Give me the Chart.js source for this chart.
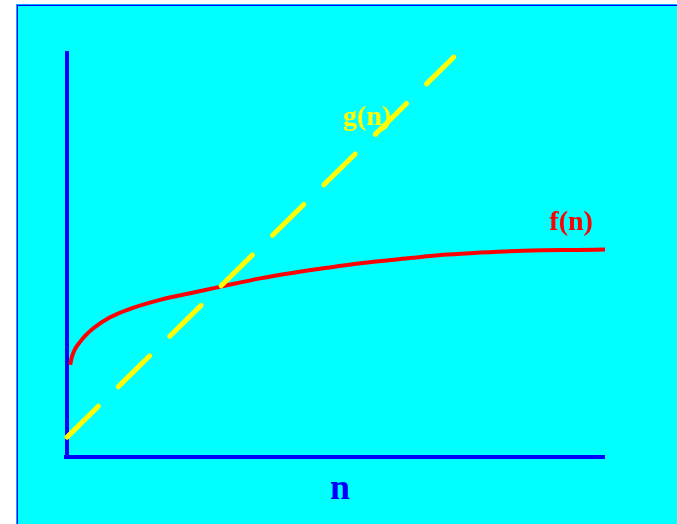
<!doctype html>
<html lang="en">
  <head>
    <meta charset="utf-8">
    <title>f(n) vs g(n)</title>
    <style>
      * {
        margin: 0;
        padding: 0;
      }
      body {
        width: 677px;
        height: 524px;
        background: white;
        overflow: hidden;
        position: relative;
      }
      .slide {
        position: absolute;
        left: 16px;
        top: 4px;
        width: 700px;
        height: 560px;
        background: #00ffff;
        border-left: 1px solid #00a8ff;
        border-top: 1px solid #00a8ff;
        box-shadow: inset 1px 1px 0 #0000ff;
      }
      #myChart {
        position: absolute;
        left: 0;
        top: 0;
      }
    </style>
  </head>
  <body>
    <div class="slide"></div>
    <canvas id="myChart" width="677" height="524"></canvas>
    <script src="https://cdn.jsdelivr.net/npm/chart.js/dist/chart.umd.min.js"></script>
    <script>
    // data (0..100 on both axes)
    const fX = [0.6, 0.9, 1.5, 2.4, 3.5, 4.9, 8.0, 11.1, 17.3, 23.5, 28.4, 35.9, 42.1, 48.3, 54.5, 63.8, 69.9, 76.2, 82.3, 88.5, 94.8, 100];
    const fY = [22.7, 24.6, 26.6, 28.3, 30.0, 31.7, 34.4, 36.2, 38.7, 40.5, 41.9, 44.0, 45.4, 46.6, 47.7, 49.0, 49.8, 50.3, 50.7, 50.9, 51.0, 51.1];
    const gX = [0, 71.9];
    const gY = [4.9, 98.5];

    // text labels, anchored in data units
    const labels = [
      { text: 'g(n)', x: 55.8, y: 81.8, color: '#ffff00', size: 28 },
      { text: 'f(n)', x: 93.7, y: 55.9, color: '#ff0000', size: 28 }
    ];
    const axisTitle = 'n';

    const toPoints = (xs, ys) => xs.map((x, i) => ({ x: x, y: ys[i] }));

    // blue axes under the lines
    const axesPlugin = {
      id: 'axes',
      beforeDatasetsDraw(chart) {
        const { ctx, chartArea: a } = chart;
        ctx.save();
        ctx.strokeStyle = '#0000ff';
        ctx.lineWidth = 4;
        ctx.beginPath();
        ctx.moveTo(a.left, a.top);
        ctx.lineTo(a.left, a.bottom + 2);
        ctx.moveTo(a.left - 3, a.bottom);
        ctx.lineTo(a.right, a.bottom);
        ctx.stroke();
        ctx.restore();
      }
    };

    // curve names and axis title
    const textPlugin = {
      id: 'texts',
      afterDatasetsDraw(chart) {
        const { ctx, chartArea: a, scales } = chart;
        ctx.save();
        ctx.textAlign = 'center';
        ctx.textBaseline = 'alphabetic';
        labels.forEach(l => {
          ctx.font = 'bold ' + l.size + 'px "Liberation Serif", serif';
          ctx.fillStyle = l.color;
          ctx.fillText(l.text, scales.x.getPixelForValue(l.x), scales.y.getPixelForValue(l.y));
        });
        ctx.font = 'bold 36px "Liberation Serif", serif';
        ctx.fillStyle = '#0000ff';
        ctx.fillText(axisTitle, (a.left + a.right) / 2 + 4, a.bottom + 42);
        ctx.restore();
      }
    };

    const config = {
      type: 'scatter',
      data: {
        datasets: [
          {
            label: 'g(n)',
            data: toPoints(gX, gY),
            showLine: true,
            borderColor: '#ffff00',
            borderWidth: 5,
            borderDash: [44, 28],
            borderCapStyle: 'round',
            pointRadius: 0,
            clip: false
          },
          {
            label: 'f(n)',
            data: toPoints(fX, fY),
            showLine: true,
            borderColor: '#ff0000',
            borderWidth: 4,
            cubicInterpolationMode: 'monotone',
            borderCapStyle: 'butt',
            pointRadius: 0,
            clip: false
          }
        ]
      },
      options: {
        responsive: false,
        animation: false,
        layout: {
          padding: { left: 67, top: 51, right: 72, bottom: 67 }
        },
        plugins: {
          legend: { display: false },
          tooltip: { enabled: false }
        },
        scales: {
          x: { type: 'linear', min: 0, max: 100, display: false },
          y: { type: 'linear', min: 0, max: 100, display: false }
        }
      },
      plugins: [axesPlugin, textPlugin]
    };

    const myChart = new Chart(document.getElementById('myChart'), config);
    </script>
  </body>
</html>
